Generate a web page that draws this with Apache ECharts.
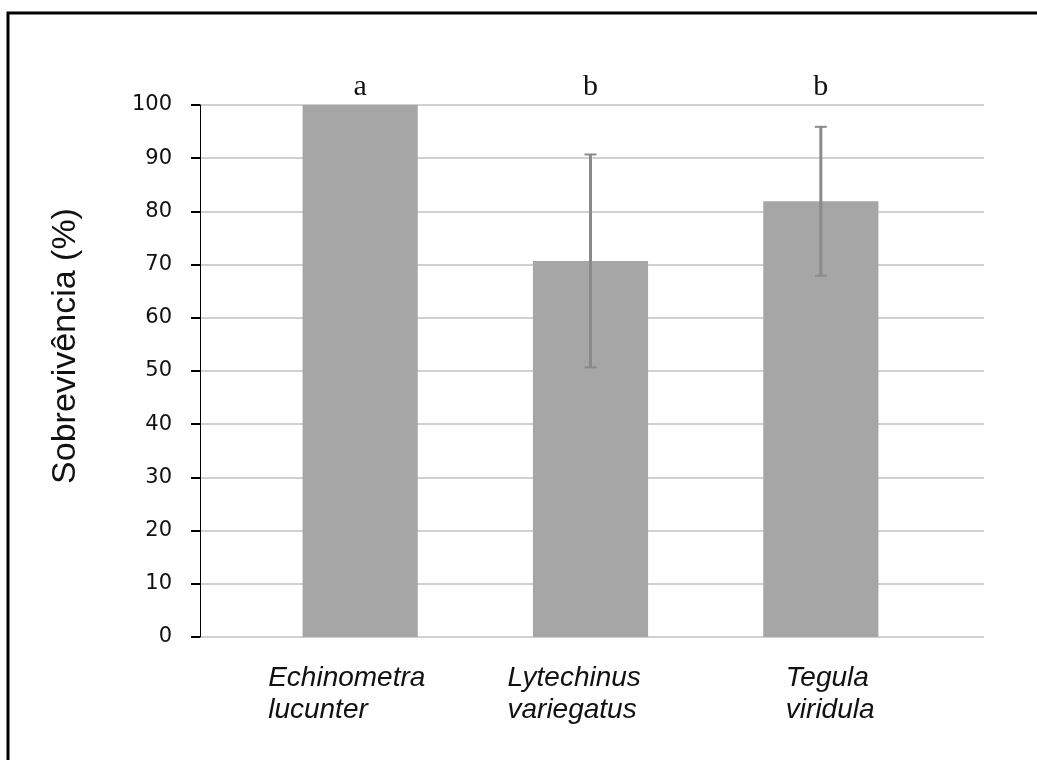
<!DOCTYPE html>
<html>
<head>
<meta charset="utf-8">
<script src="https://cdn.jsdelivr.net/npm/echarts@6/dist/echarts.min.js"></script>
<style>
  html, body { margin: 0; padding: 0; background: #fff; }
  #main { width: 1037px; height: 760px; }
</style>
</head>
<body>
<div id="main"></div>
<script>
// dados
var especies = ['Echinometra\nlucunter', 'Lytechinus\nvariegatus', 'Tegula\nviridula'];
var sobrevivencia = [100, 70.7, 81.9];
var erro = [0, 20, 14];
var letras = ['a', 'b', 'b'];
var ticksY = [0, 10, 20, 30, 40, 50, 60, 70, 80, 90, 100];

var myChart = echarts.init(document.getElementById('main'));

var errData = sobrevivencia.map(function (v, i) { return [i, v, erro[i]]; });

var estiloEspecie = { align: 'left', fontSize: 28, lineHeight: 32, fontStyle: 'italic', fontFamily: 'Liberation Sans', color: '#111' };

myChart.setOption({
    animation: false,
    backgroundColor: '#fff',
    graphic: [{
        type: 'rect',
        shape: { x: 8, y: 13, width: 1200, height: 900 },
        style: { fill: 'none', stroke: '#000', lineWidth: 3 },
        silent: true
    }],
    grid: [
        { left: 200, right: 53, top: 105, bottom: 123 },
        { left: 245, right: 101, top: 105, bottom: 123 }
    ],
    xAxis: [
        {
            gridIndex: 0, type: 'category', data: especies,
            axisLine: { show: false }, axisTick: { show: false },
            axisLabel: { show: false }
        },
        {
            gridIndex: 1, type: 'category', data: especies,
            axisLine: { show: false }, axisTick: { show: false },
            axisLabel: {
                margin: 25,
                formatter: function (v, i) {
                    return v.split('\n').map(function (s) { return '{n' + i + '|' + s + '}'; }).join('\n');
                },
                rich: {
                    n0: Object.assign({ width: 184 }, estiloEspecie),
                    n1: Object.assign({ width: 166 }, estiloEspecie),
                    n2: Object.assign({ width: 92, padding: [0, 0, 0, 22] }, estiloEspecie)
                }
            }
        }
    ],
    yAxis: [
        {
            gridIndex: 0, type: 'value', min: 0, max: 100, interval: 10,
            name: 'Sobrevivência (%)',
            nameLocation: 'middle',
            nameGap: 117,
            nameTextStyle: { fontFamily: 'Liberation Sans', fontSize: 34, color: '#111', padding: [0, 0, 0, 50] },
            axisLine: { show: true, lineStyle: { color: '#000', width: 1 } },
            axisTick: { show: true, length: 9, lineStyle: { color: '#000', width: 2 } },
            axisLabel: {
                margin: 28,
                fontFamily: 'DejaVu Sans', fontSize: 21, color: '#111',
                formatter: function (v) { return ticksY.indexOf(v) >= 0 ? String(v) : ''; }
            },
            splitLine: { show: true, lineStyle: { color: '#c0c0c0', width: 1.5 } }
        },
        {
            gridIndex: 1, type: 'value', min: 0, max: 100, interval: 10,
            axisLine: { show: false }, axisTick: { show: false },
            axisLabel: { show: false }, splitLine: { show: false }
        }
    ],
    series: [
        {
            type: 'bar',
            xAxisIndex: 1, yAxisIndex: 1,
            data: sobrevivencia,
            barWidth: '50%',
            itemStyle: { color: '#a6a6a6' }
        },
        {
            type: 'custom',
            xAxisIndex: 1, yAxisIndex: 1,
            data: errData,
            z: 5,
            renderItem: function (params, api) {
                var i = api.value(0), m = api.value(1), e = api.value(2);
                var x = api.coord([i, 0])[0];
                var yTop = api.coord([i, m + e])[1];
                var yBot = api.coord([i, m - e])[1];
                var cor = '#8a8a8a';
                var children = [];
                if (e > 0) {
                    children.push(
                        { type: 'line', shape: { x1: x, y1: yTop, x2: x, y2: yBot }, style: { stroke: cor, lineWidth: 3 } },
                        { type: 'line', shape: { x1: x - 6, y1: yTop, x2: x + 6, y2: yTop }, style: { stroke: cor, lineWidth: 2 } },
                        { type: 'line', shape: { x1: x - 6, y1: yBot, x2: x + 6, y2: yBot }, style: { stroke: cor, lineWidth: 2 } }
                    );
                }
                children.push({
                    type: 'text',
                    style: {
                        text: letras[params.dataIndex],
                        x: x, y: params.coordSys.y - 3,
                        align: 'center', verticalAlign: 'bottom',
                        font: '30px "Liberation Serif"', fill: '#111'
                    }
                });
                return { type: 'group', children: children };
            }
        }
    ]
});
</script>
</body>
</html>
